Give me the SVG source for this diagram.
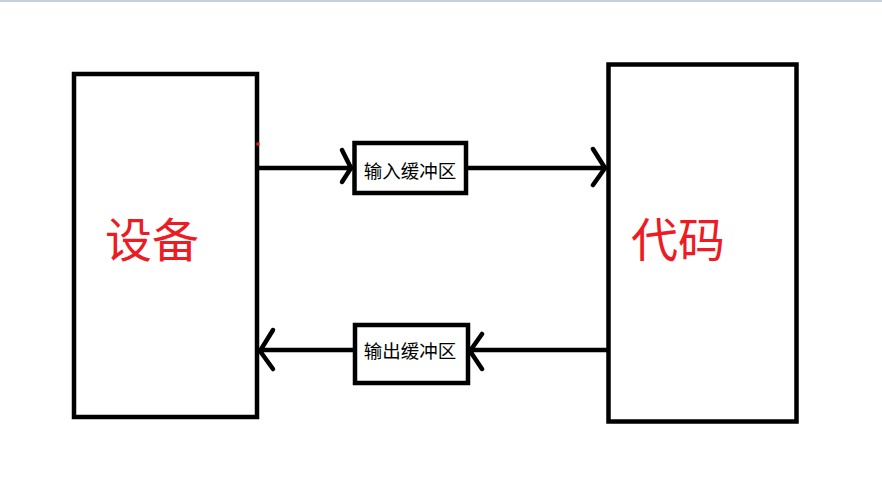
<svg xmlns="http://www.w3.org/2000/svg" width="882" height="502" viewBox="0 0 882 502">
<style>
.box{fill:#fff;stroke:#000;stroke-width:4.5}
.big{font-family:"Noto Sans CJK SC","Noto Sans",sans-serif;font-size:47px;fill:#ed1c24;text-anchor:middle}
.small{font-family:"Noto Sans CJK SC","Noto Sans",sans-serif;font-size:18.5px;fill:#000;text-anchor:middle}
.line{fill:none;stroke:#000;stroke-width:4.5;stroke-linecap:round;stroke-linejoin:round}
</style>
<rect x="0" y="0" width="882" height="502" fill="#fff"/>
<rect x="0" y="0" width="882" height="2" fill="#c5cfe0"/>
<g id="device">
<rect class="box" x="74" y="74" width="183" height="343"/>
<text class="big" x="152" y="257">设备</text>
</g>
<g id="code">
<rect class="box" x="608.5" y="64.5" width="188" height="357"/>
<text class="big" x="678" y="257">代码</text>
</g>
<g id="connectors">
<path class="line" d="M259 168 H352 M342 150 L351 168 L342 182"/>
<path class="line" d="M468 168 H606 M593 149 L605 168 L593 185"/>
<path class="line" d="M607 350 H470 M482 334 L470 351 L482 369"/>
<path class="line" d="M355 350 H260 M273 330 L260 351 L273 369"/>
</g>
<g id="input-buffer">
<rect class="box" x="354.5" y="143" width="111.5" height="50"/>
<text class="small" x="410" y="178">输入缓冲区</text>
</g>
<g id="output-buffer">
<rect class="box" x="355" y="325" width="113" height="58"/>
<text class="small" x="410" y="358">输出缓冲区</text>
</g>
<circle cx="258" cy="144" r="1.8" fill="#ed1c24"/>
</svg>
